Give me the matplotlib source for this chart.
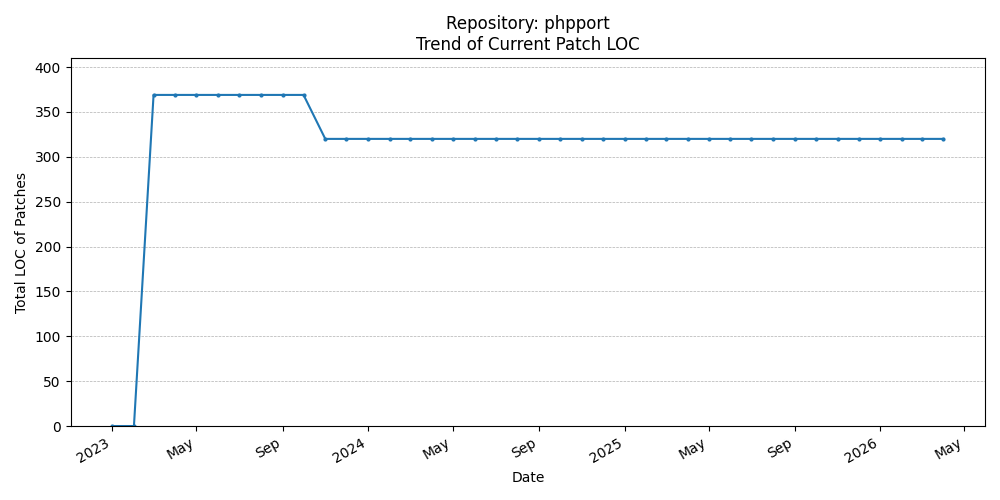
import pandas as pd
import matplotlib
matplotlib.use('Agg')
import matplotlib.pyplot as plt
import matplotlib.dates as mdates

repo_name = 'phpport'
months = pd.date_range('2023-01-01', '2026-04-01', freq='MS')
# monthly totals
patch_loc = [0, 0] + [369] * 8 + [320] * 30

fig, ax = plt.subplots(figsize=(10, 5))
ax.plot(months, patch_loc, marker='o', markersize=2, linewidth=1.5, color='#1f77b4')

ax.set_title(f'Repository: {repo_name}\nTrend of Current Patch LOC')
ax.set_xlabel('Date')
ax.set_ylabel('Total LOC of Patches')
ax.set_ylim(0, 410)
ax.grid(axis='y', linestyle='--', linewidth=0.5)

locator = mdates.AutoDateLocator()
ax.xaxis.set_major_locator(locator)
ax.xaxis.set_major_formatter(mdates.ConciseDateFormatter(locator))
fig.autofmt_xdate()

plt.tight_layout()
plt.savefig('out.png', dpi=100)
